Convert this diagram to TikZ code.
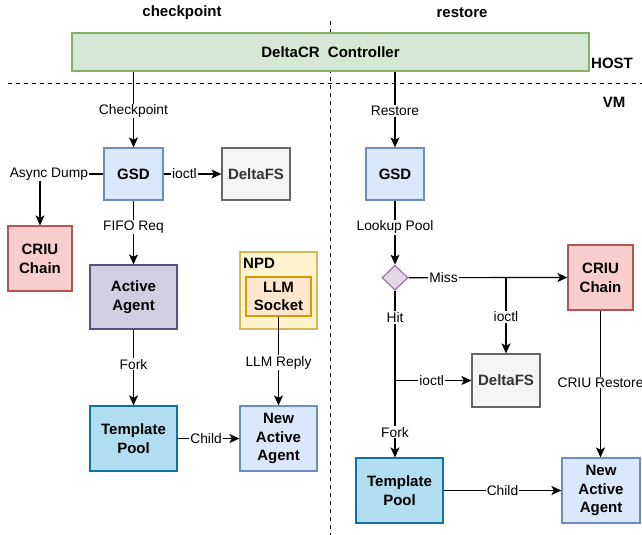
\documentclass[tikz,border=0pt]{standalone}
\usepackage{fontspec}
\setmainfont{Liberation Sans}
\usetikzlibrary{arrows.meta,shapes.geometric}
\definecolor{ctrlF}{HTML}{D5E8D4}\definecolor{ctrlD}{HTML}{82B366}
\definecolor{blueF}{HTML}{DAE8FC}\definecolor{blueD}{HTML}{6C8EBF}
\definecolor{grayF}{HTML}{F5F5F5}\definecolor{grayD}{HTML}{666666}\definecolor{grayT}{HTML}{333333}
\definecolor{redF}{HTML}{F8CECC}\definecolor{redD}{HTML}{B85450}
\definecolor{purF}{HTML}{D0CEE2}\definecolor{purD}{HTML}{56517E}
\definecolor{yelF}{HTML}{FFF2CC}\definecolor{yelD}{HTML}{D6B656}
\definecolor{oraF}{HTML}{FFE6CC}\definecolor{oraD}{HTML}{D79B00}
\definecolor{cyaF}{HTML}{B1DDF0}\definecolor{cyaD}{HTML}{10739E}
\definecolor{diaF}{HTML}{E1D5E7}\definecolor{diaD}{HTML}{9673A6}
\tikzset{
  box/.style={draw, line width=1.2pt, inner sep=0pt, align=center,
    font=\fontsize{15}{18.7}\selectfont\bfseries},
  lbl/.style={fill=white, inner sep=1pt, text=black,
    font=\fontsize{13.8}{16}\selectfont},
  arr/.style={line width=1.2pt, -{Stealth[length=10pt,width=9pt,inset=2.5pt]}},
  ln/.style={line width=1.2pt},
  sep/.style={line width=1pt, dash pattern=on 4pt off 4pt},
  ttl/.style={font=\fontsize{15}{18}\selectfont\bfseries}
}
\begin{document}
\begin{tikzpicture}[x=1pt,y=-1pt]
\useasboundingbox (0,0) rectangle (642,535);
% separators
\coordinate (vtop) at (330,21);
\coordinate (vbot) at (330,535);
\coordinate (hl) at (8,83);
\coordinate (hr) at (642,83);
\draw[sep] (vtop) -- (vbot);
\draw[sep] (hl) -- (hr);
% titles
\node[ttl] (tc) at (182,13) {checkpoint};
\node[ttl] (tr) at (462,13) {restore};
\node[ttl] (host) at (612,63) {HOST};
\node[ttl] (vm) at (614,102) {VM};
% controller
\node[box, fill=ctrlF, draw=ctrlD, minimum width=517, minimum height=38] (ctrl) at (330.5,52) {DeltaCR~~Controller};
% left side
\node[box, fill=blueF, draw=blueD, minimum width=59, minimum height=52] (gsdL) at (133.5,174) {GSD};
\node[box, fill=grayF, draw=grayD, text=grayT, minimum width=68, minimum height=52] (dfsL) at (256,174) {DeltaFS};
\node[box, fill=redF, draw=redD, minimum width=64, minimum height=65] (criuL) at (40,258.5) {CRIU\\Chain};
\node[box, fill=purF, draw=purD, minimum width=87, minimum height=64] (actL) at (133.5,297) {Active\\Agent};
\node[box, fill=yelF, draw=yelD, minimum width=77, minimum height=77] (npd) at (278.5,290.5) {};
\node[ttl, anchor=west, inner sep=0pt] (npdt) at (243,263.5) {NPD};
\node[box, fill=oraF, draw=oraD, minimum width=65, minimum height=39] (llm) at (278.5,296.5) {LLM\\Socket};
\node[box, fill=cyaF, draw=cyaD, minimum width=87, minimum height=65] (tplL) at (133.5,438.5) {Template\\Pool};
\node[box, fill=blueF, draw=blueD, minimum width=77, minimum height=65] (newL) at (278.5,438.5) {New\\Active\\Agent};
% right side
\node[box, fill=blueF, draw=blueD, minimum width=58, minimum height=52] (gsdR) at (395,174) {GSD};
\node[diamond, draw=diaD, fill=diaF, line width=1.2pt, inner sep=0pt, minimum width=26, minimum height=25] (dia) at (395,277.7) {};
\node[box, fill=redF, draw=redD, minimum width=65, minimum height=65] (criuR) at (600.5,277.5) {CRIU\\Chain};
\node[box, fill=grayF, draw=grayD, text=grayT, minimum width=68, minimum height=53] (dfsR) at (506,380.5) {DeltaFS};
\node[box, fill=cyaF, draw=cyaD, minimum width=87, minimum height=65] (tplR) at (399.5,490.5) {Template\\Pool};
\node[box, fill=blueF, draw=blueD, minimum width=78, minimum height=65] (newR) at (601,490.5) {New\\Active\\Agent};
% left connectors
\draw[arr] (gsdL.north |- ctrl.south) -- node[lbl, pos=0.52] {Checkpoint} (gsdL.north);
\draw[arr] (gsdL.east) -- node[lbl, pos=0.36] {ioctl} (dfsL.west);
\draw[arr] (gsdL.west) -| node[lbl, pos=0.43] {Async Dump} (criuL.north);
\draw[arr] (gsdL.south) -- node[lbl, pos=0.415] {FIFO Req} (actL.north);
\draw[arr] (actL.south) -- node[lbl, pos=0.455] {Fork} (tplL.north);
\draw[arr] (llm.south) -- node[lbl, pos=0.52] {LLM Reply} (newL.north);
\draw[arr] (tplL.east) -- node[lbl, pos=0.46] {Child} (newL.west);
% right connectors
\draw[arr] (gsdR.north |- ctrl.south) -- node[lbl, pos=0.52] {Restore} (gsdR.north);
\draw[arr] (gsdR.south) -- node[lbl, pos=0.415] {Lookup Pool} (dia.north);
\draw[arr] (dia.east) -- node[lbl, pos=0.22] {Miss} (criuR.west);
\coordinate (missj) at (dfsR.north |- dia.east);
\draw[arr] (missj) -- node[lbl, pos=0.515] {ioctl} (dfsR.north);
\coordinate (tplin) at (dia.south |- tplR.north);
\draw[arr] (dia.south) -- node[lbl, pos=0.16] {Hit} node[lbl, pos=0.85] {Fork} (tplin);
\coordinate (hitj) at (dia.south |- dfsR.west);
\draw[arr] (hitj) -- node[lbl, pos=0.48] {ioctl} (dfsR.west);
\coordinate (newin) at (criuR.south |- newR.north);
\draw[arr] (criuR.south) -- node[lbl, pos=0.49] {CRIU Restore} (newin);
\draw[arr] (tplR.east) -- node[lbl, pos=0.5] {Child} (newR.west);
\end{tikzpicture}
\end{document}
